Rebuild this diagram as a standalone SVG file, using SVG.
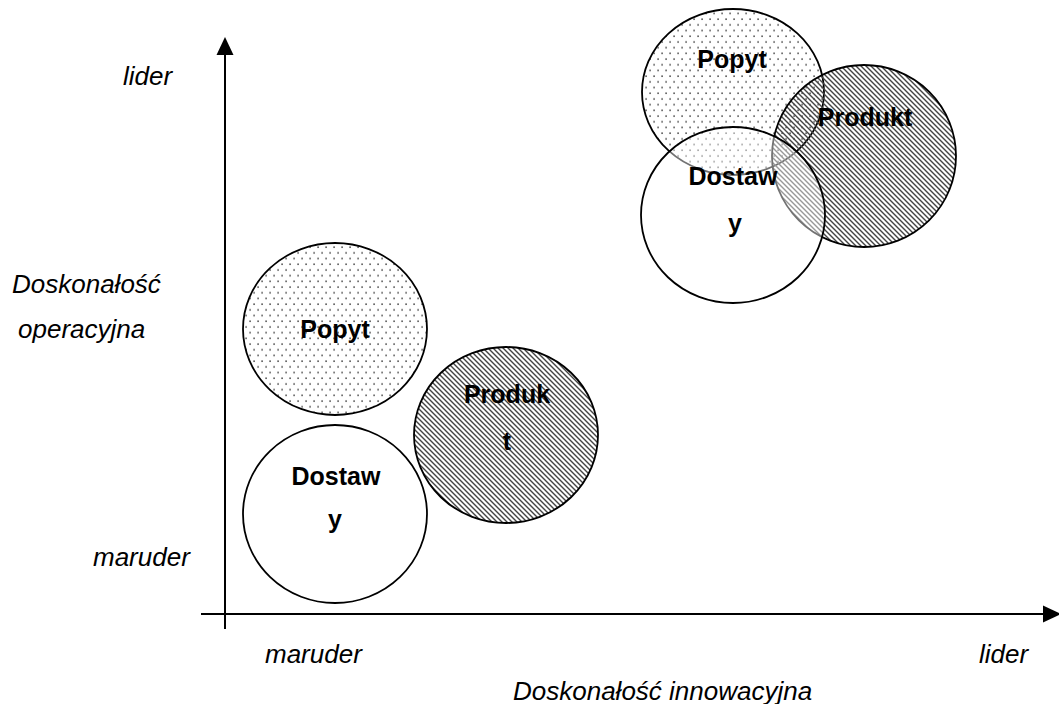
<svg xmlns="http://www.w3.org/2000/svg" width="1059" height="704" viewBox="0 0 1059 704">
<defs>
<pattern id="dots" patternUnits="userSpaceOnUse" width="8" height="11.4">
<rect x="1.3" y="1.3" width="1.6" height="1.6" fill="#555"/>
<rect x="5.3" y="7" width="1.6" height="1.6" fill="#555"/>
</pattern>
<pattern id="hatch" patternUnits="userSpaceOnUse" width="5" height="5">
<path d="M-1,-1 L6,6 M-1,4 L1,6 M4,-1 L6,1" stroke="#444" stroke-width="1.4"/>
</pattern>
</defs>
<style>
.c{stroke:#000;stroke-width:1.8}
.t{font-family:"Liberation Sans",Arial,sans-serif;font-weight:bold;font-size:25px;fill:#000;text-anchor:middle}
.l{font-family:"Liberation Sans",Arial,sans-serif;font-style:italic;font-size:26px;fill:#000}
.ax{stroke:#000;stroke-width:2;fill:none}
</style>
<rect width="1059" height="704" fill="#fff"/>

<g id="axes">
<line class="ax" x1="225" y1="629" x2="225" y2="54"/>
<path d="M216.5,55 L225,37 L233.5,55 Z" fill="#000"/>
<line class="ax" x1="201" y1="614" x2="1045" y2="614"/>
<path d="M1043,605.5 L1061,614 L1043,622.5 Z" fill="#000"/>
</g>

<g id="labels">
<text class="l" x="123" y="85">lider</text>
<text class="l" x="12" y="293">Doskonałość</text>
<text class="l" x="18" y="338">operacyjna</text>
<text class="l" x="93" y="566">maruder</text>
<text class="l" x="265" y="663">maruder</text>
<text class="l" x="979" y="663">lider</text>
<text class="l" x="513" y="700">Doskonałość innowacyjna</text>
</g>

<g id="node-popyt-left">
<ellipse class="c" cx="335" cy="329" rx="92" ry="86" fill="url(#dots)"/>
<text class="t" x="335" y="338">Popyt</text>
</g>
<g id="node-dostawy-left">
<ellipse class="c" cx="335" cy="514" rx="92" ry="89" fill="#fff"/>
<text class="t" x="336" y="485">Dostaw</text>
<text class="t" x="335" y="528">y</text>
</g>
<g id="node-produkt-left">
<ellipse class="c" cx="506" cy="435" rx="92" ry="88" fill="url(#hatch)"/>
<text class="t" x="507" y="403">Produk</text>
<text class="t" x="507" y="450">t</text>
</g>

<g id="node-popyt-right">
<ellipse class="c" cx="733" cy="92" rx="91" ry="83" fill="url(#dots)"/>
<text class="t" x="732" y="68">Popyt</text>
</g>
<g id="node-produkt-right">
<ellipse class="c" cx="864" cy="156" rx="92" ry="91" fill="url(#hatch)"/>
<text class="t" x="865" y="126">Produkt</text>
</g>
<g id="node-dostawy-right">
<ellipse class="c" cx="733" cy="215" rx="92" ry="88" fill="#fff" fill-opacity="0.45"/>
<text class="t" x="733" y="185">Dostaw</text>
<text class="t" x="735" y="232">y</text>
</g>
</svg>
